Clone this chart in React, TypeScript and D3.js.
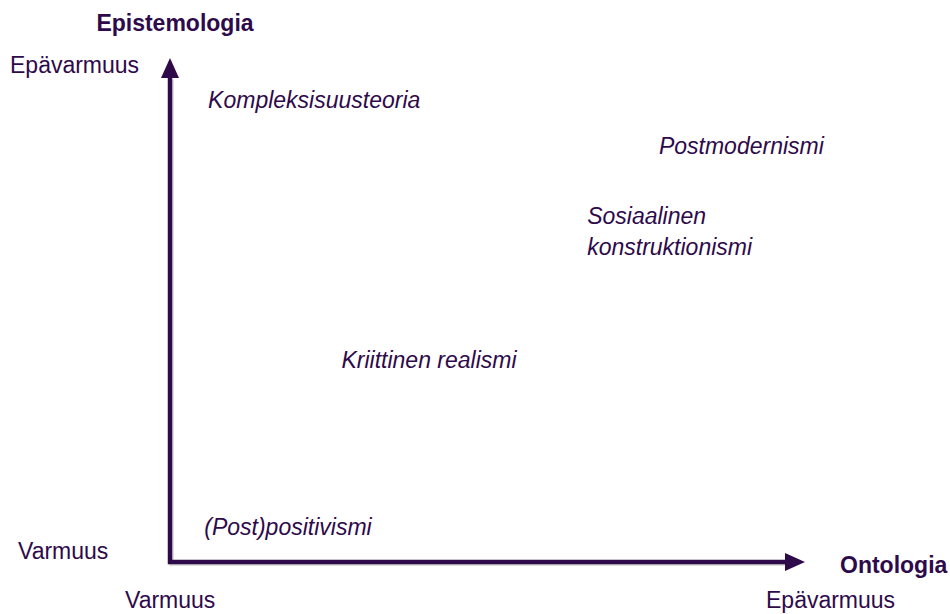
import * as d3 from "d3";
import React from "react";

// positions on 0..1 (ontologia = x, epistemologia = y)
const labels = ["Kompleksisuusteoria", "Postmodernismi", "Sosiaalinen\nkonstruktionismi", "Kriittinen realismi", "(Post)positivismi"];
const ontologia = [0.06, 0.77, 0.657, 0.27, 0.054];
const epistemologia = [0.9, 0.81, 0.67, 0.385, 0.054];
const axisTitles = ["Ontologia", "Epistemologia"];
const endLabels = ["Varmuus", "Epävarmuus"];

const W = 950, H = 614;
const margin = { top: 58, right: 145, bottom: 52, left: 170 };
const color = "#2e0a4a";
const font = "'Liberation Sans', Arial, sans-serif";
const fs = 23;

export default function App() {
  const x = d3.scaleLinear().domain([0, 1]).range([margin.left, W - margin.right]);
  const y = d3.scaleLinear().domain([0, 1]).range([H - margin.bottom, margin.top]);
  const x0 = x(0), y0 = y(0), x1 = x(1), y1 = y(1);
  const head = 20, hw = 9;
  const sw = 4.5;

  return (
    <svg width={W} height={H} style={{ position: "absolute", left: 0, top: 0, fontFamily: font }}>
      <rect width={W} height={H} fill="#fff" />
      {/* shadow */}
      <g transform="translate(1.5,1.5)" opacity={0.25}>
        <path d={`M${x0},${y1 + head} L${x0},${y0} L${x1 - head},${y0}`} fill="none" stroke="#555" strokeWidth={sw} />
      </g>
      <path d={`M${x0},${y1 + head} L${x0},${y0} L${x1 - head},${y0}`} fill="none" stroke={color} strokeWidth={sw} />
      <path d={`M${x0},${y1} L${x0 - hw},${y1 + head} L${x0 + hw},${y1 + head} Z`} fill={color} />
      <path d={`M${x1},${y0} L${x1 - head},${y0 - hw} L${x1 - head},${y0 + hw} Z`} fill={color} />

      <text x={x0 + 5} y={31} textAnchor="middle" fontSize={fs} fontWeight="bold" fill={color}>{axisTitles[1]}</text>
      <text x={840} y={y0 + 11} fontSize={fs} fontWeight="bold" fill={color}>{axisTitles[0]}</text>

      <text x={10} y={73} fontSize={fs} fill={color}>{endLabels[1]}</text>
      <text x={18} y={559} fontSize={fs} fill={color}>{endLabels[0]}</text>
      <text x={125} y={608} fontSize={fs} fill={color}>{endLabels[0]}</text>
      <text x={766} y={608} fontSize={fs} fill={color}>{endLabels[1]}</text>

      {labels.map((l, i) => (
        <text key={l} x={x(ontologia[i])} y={y(epistemologia[i])} fontSize={fs} fontStyle="italic" fill={color}>
          {l.split("\n").map((line, j) => (
            <tspan key={j} x={x(ontologia[i])} dy={j === 0 ? 0 : 31}>{line}</tspan>
          ))}
        </text>
      ))}
    </svg>
  );
}
